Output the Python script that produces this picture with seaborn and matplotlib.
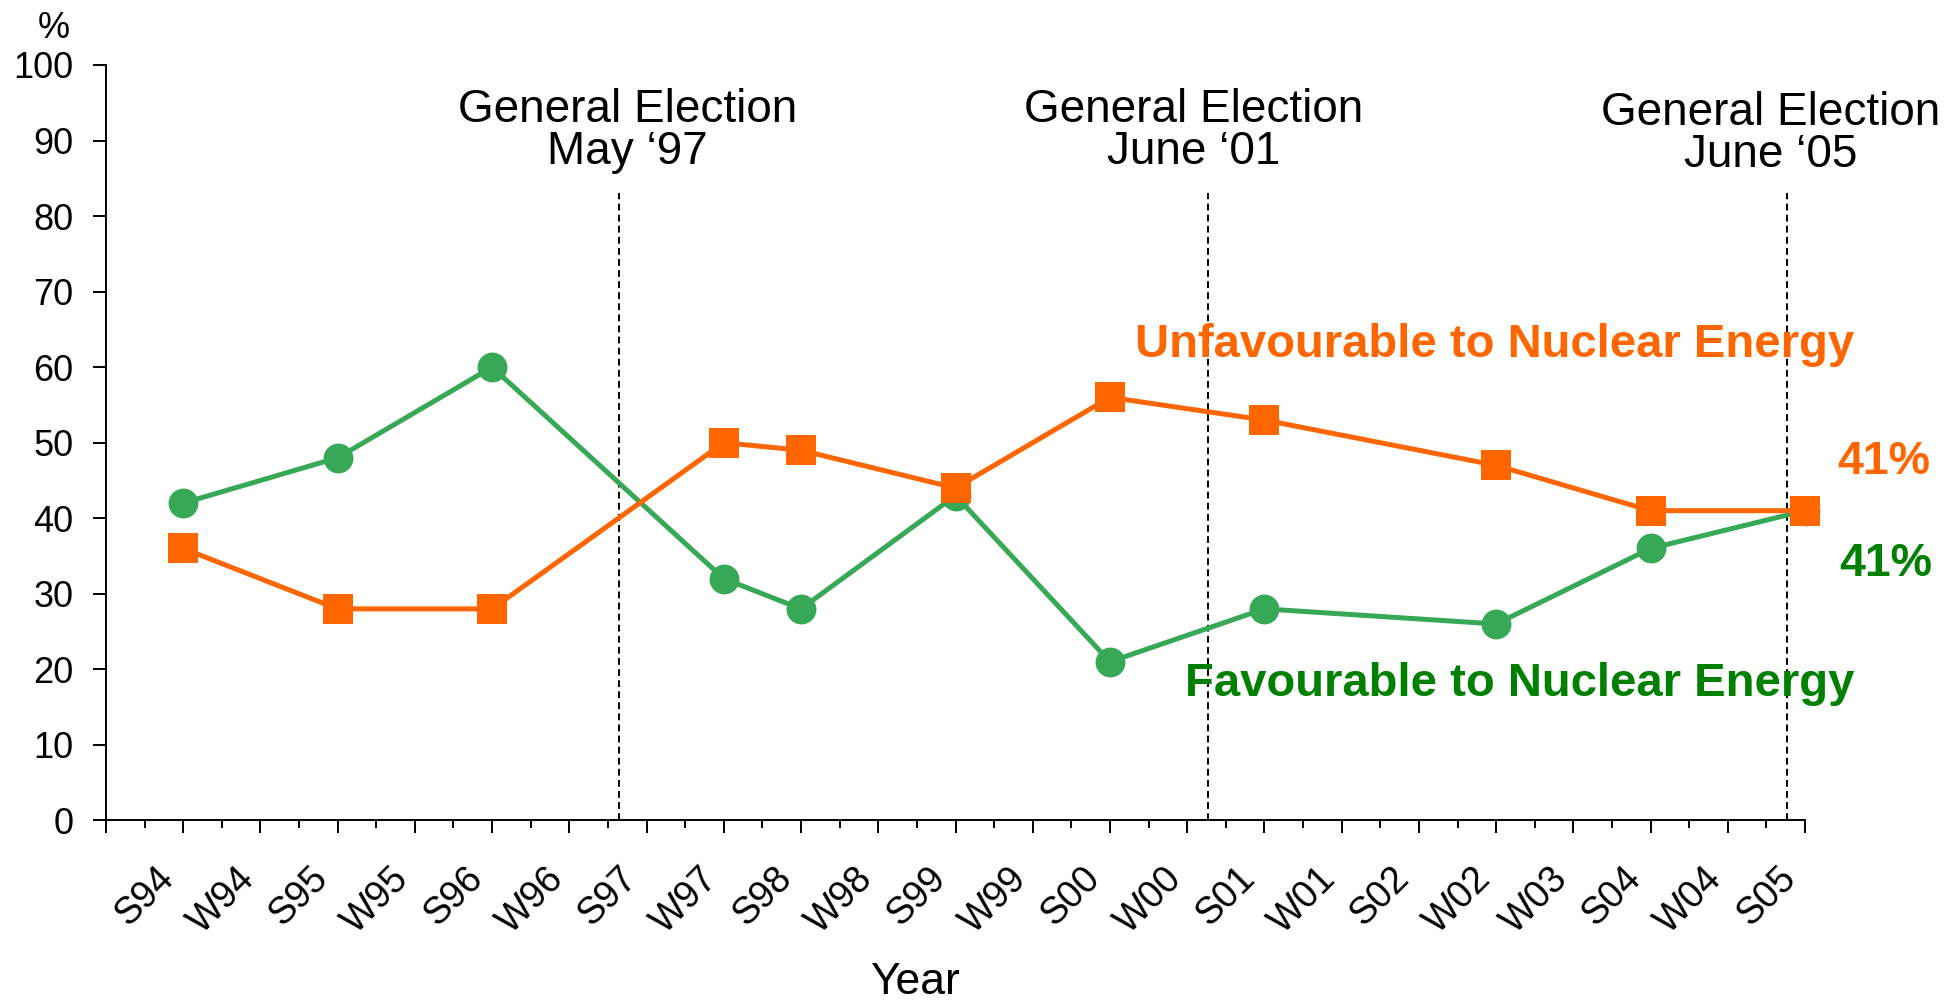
import matplotlib
matplotlib.use("Agg")
import matplotlib.pyplot as plt
import seaborn as sns
import pandas as pd
import numpy as np

# Survey waves on the x axis (S = summer, W = winter)
waves = ['S94', 'W94', 'S95', 'W95', 'S96', 'W96', 'S97', 'W97', 'S98', 'W98', 'S99',
         'W99', 'S00', 'W00', 'S01', 'W01', 'S02', 'W02', 'W03', 'S04', 'W04', 'S05']

# Where each survey sits on the wave axis, and the results (%)
survey_pos = [1, 3, 5, 8, 9, 11, 13, 15, 18, 20, 22]
favourable = [42, 48, 60, 32, 28, 43, 21, 28, 26, 36, 41]
unfavourable = [36, 28, 28, 50, 49, 44, 56, 53, 47, 41, 41]

# General elections
election_labels = ['General Election\nMay \u201897', 'General Election\nJune \u201801',
                   'General Election\nJune \u201805']
election_pos = [6.64, 14.27, 21.76]
election_text_x = [6.75, 14.08, 21.56]
election_text_y = [91.3, 91.3, 90.9]

green = '#37A856'
green_text = '#008000'
orange = '#FF6600'

sns.set_style("white")
plt.rcParams['font.family'] = ['Liberation Sans', 'DejaVu Sans']
plt.rcParams.update({'text.color': 'black', 'axes.labelcolor': 'black',
                     'xtick.color': 'black', 'ytick.color': 'black'})

df = pd.DataFrame({'pos': survey_pos, 'Favourable': favourable, 'Unfavourable': unfavourable})

fig = plt.figure(figsize=(19.58, 10.06), dpi=100)
ax = fig.add_axes([0.0541, 0.1845, 0.8678, 0.7509])

# Election markers
ax.vlines(election_pos, 0, 83, colors='black', linestyles=(0, (3.5, 2.2)), linewidth=1.4)

sns.lineplot(data=df, x='pos', y='Favourable', color=green, marker='o', markersize=21.5,
             markeredgewidth=0, linewidth=3.6, ax=ax, clip_on=False)
sns.lineplot(data=df, x='pos', y='Unfavourable', color=orange, marker='s', markersize=21,
             markeredgewidth=0, linewidth=3.6, ax=ax, clip_on=False)

for lab, tx, ty in zip(election_labels, election_text_x, election_text_y):
    ax.text(tx, ty, lab, ha='center', va='center', fontsize=33, linespacing=0.95)

ax.text(17.98, 62.9, 'Unfavourable to Nuclear Energy', color=orange, fontsize=34,
        fontweight='bold', ha='center', va='center')
ax.text(18.31, 18.1, 'Favourable to Nuclear Energy', color=green_text, fontsize=34,
        fontweight='bold', ha='center', va='center')
ax.text(23.02, 47.4, f'{unfavourable[-1]}%', color=orange, fontsize=33.5,
        fontweight='bold', ha='center', va='center')
ax.text(23.04, 33.9, f'{favourable[-1]}%', color=green_text, fontsize=33.5,
        fontweight='bold', ha='center', va='center')

# Axes
ax.set_xlim(0, 22)
ax.set_ylim(0, 100)
ax.set_yticks(range(0, 101, 10))
ax.set_xticks(np.arange(23))
ax.set_xticks(np.arange(22) + 0.5, labels=waves, minor=True, rotation=45)
ax.tick_params(axis='x', which='major', labelbottom=False, length=9.4, width=1.4,
               direction='out', bottom=True)
ax.tick_params(axis='x', which='minor', length=5.8, width=1.4, pad=23, labelsize=27,
               direction='out', bottom=True)
ax.tick_params(axis='y', length=9.4, width=1.4, pad=14, labelsize=26, direction='out', left=True)
ax.set_xlabel('Year', fontsize=32)
ax.xaxis.set_label_coords(0.476, -0.188)
ax.set_ylabel('')
sns.despine(ax=ax)
for s in ['left', 'bottom']:
    ax.spines[s].set_linewidth(1.4)
    ax.spines[s].set_color('black')

fig.text(54 / 1958, 1 - 28 / 1006, '%', fontsize=26, ha='center', va='center')

fig.savefig('out.png', dpi=100)
